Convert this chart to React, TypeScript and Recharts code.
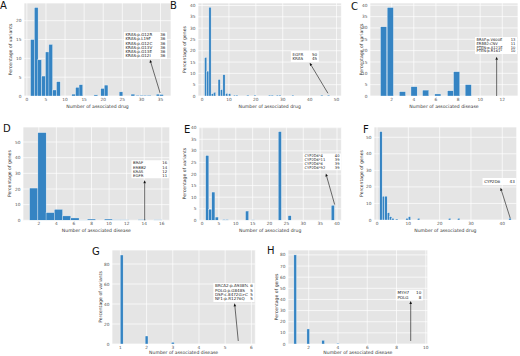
import { BarChart, Bar, XAxis, YAxis, CartesianGrid, ReferenceArea, ReferenceLine } from "recharts";

// A: variants by number of associated drugs
const aBinMid = [1.5, 2.5, 3.4, 4.4, 5.4, 6.3, 7.3, 8.3, 12.3, 13.3, 14.2, 18.1, 19.9, 20.8, 24.7, 27.8, 29.1, 30.1, 31.0, 32.0, 34.4, 35.3];
const aPct = [15.0, 23.5, 9.6, 5.3, 11.7, 13.7, 1.6, 3.8, 0.5, 2.3, 3.0, 0.3, 2.0, 2.9, 1.1, 0.5, 0.2, 0.2, 0.2, 0.2, 0.5, 0.4];
const aXTicks = [0, 5, 10, 15, 20, 25, 30, 35];
const aYTicks = [0, 5, 10, 15, 20];
const aNoteNames = ["KRAS:p.G12R", "KRAS:p.L19F", "KRAS:p.G12C", "KRAS:p.G13V", "KRAS:p.G13E", "KRAS:p.G12I"];
const aNoteCounts = [36, 36, 36, 36, 36, 36];

// B: genes by number of associated drugs
const bBinMid = [1.4, 2.2, 3.0, 3.9, 4.7, 6.4, 7.3, 8.2, 9.2, 10.3, 12.1, 13.0, 17.0, 19.7, 25.1, 26.1, 28.0, 28.9, 33.8, 44.5, 47.0];
const bPct = [17.0, 11.0, 39.2, 1.0, 1.6, 7.3, 2.8, 9.4, 1.1, 1.0, 0.4, 0.4, 0.4, 0.4, 0.4, 0.4, 0.4, 0.4, 0.4, 0.4, 0.4];
const bXTicks = [0, 10, 20, 30, 40, 50];
const bYTicks = [0, 5, 10, 15, 20, 25, 30, 35, 40];
const bNoteNames = ["EGFR", "KRAS"];
const bNoteCounts = [50, 45];

// C: variants by number of associated diseases
const cBinMid = [1.3, 1.9, 3.0, 4.05, 5.1, 6.2, 7.35, 7.9, 8.95];
const cPct = [30.5, 39.0, 1.9, 4.1, 2.6, 0.9, 2.3, 10.7, 5.0];
const cXTicks = [2, 4, 6, 8, 10, 12];
const cYTicks = [0, 5, 10, 15, 20, 25, 30, 35, 40];
const cNoteNames = ["BRAF:p.V600E", "ERBB2:CNV", "PTEN:p.A121E", "PTEN:p.R161*"];
const cNoteCounts = [13, 11, 10, 10];

// D: genes by number of associated diseases
const dBinMid = [1.47, 2.41, 3.34, 4.28, 5.22, 6.16, 7.09, 8.03, 9.97, 10.9, 11.8, 13.8, 15.6];
const dPct = [20.6, 56.0, 4.9, 7.0, 2.8, 1.5, 0.2, 0.8, 0.8, 0.3, 0.3, 0.4, 0.3];
const dXTicks = [2, 4, 6, 8, 10, 12, 14, 16];
const dYTicks = [0, 10, 20, 30, 40, 50];
const dNoteNames = ["BRAF", "ERBB2", "KRAS", "EGFR"];
const dNoteCounts = [16, 14, 12, 11];

// E: variants by number of associated drugs (pharmacogenomic)
const eBinMid = [1.6, 2.5, 3.4, 4.4, 6.5, 7.4, 13.4, 15.1, 23.1, 26.0, 38.8];
const ePct = [28.0, 4.8, 12.2, 1.4, 0.3, 0.3, 4.0, 0.2, 38.3, 2.0, 6.5];
const eXTicks = [0, 5, 10, 15, 20, 25, 30, 35, 40];
const eYTicks = [0, 5, 10, 15, 20, 25, 30, 35, 40];
const eNoteNames = ["CYP2D6*4", "CYP2D6*11", "CYP2D6*6", "CYP2D6*92"];
const eNoteCounts = [40, 39, 39, 39];

// F: genes by number of associated drugs (pharmacogenomic)
const fBinMid = [1.3, 2.1, 2.9, 3.7, 4.4, 5.1, 6.3, 9.6, 10.4, 13.3, 23.2, 26.1, 42.5];
const fPct = [53.4, 14.4, 14.4, 4.4, 2.0, 1.0, 0.6, 1.0, 2.0, 1.0, 1.0, 1.0, 1.0];
const fXTicks = [0, 10, 20, 30, 40];
const fYTicks = [0, 10, 20, 30, 40, 50];
const fNoteNames = ["CYP2D6"];
const fNoteCounts = [43];

// G: variants by number of associated diseases (germline)
const gBinMid = [1.05, 2.0, 3.0];
const gPct = [89.0, 8.0, 1.7];
const gXTicks = [1, 2, 3, 4, 5, 6];
const gYTicks = [0, 20, 40, 60, 80];
const gNoteNames = ["BRCA2:p.A938fs", "POLG:p.G848S", "DSP:c.8472G>C", "NF1:p.R1276Q"];
const gNoteCounts = [6, 5, 5, 5];

// H: genes by number of associated diseases (germline)
const hBinMid = [1.09, 1.98, 3.0, 4.0];
const hPct = [80.0, 13.5, 3.3, 0.7];
const hXTicks = [2, 4, 6, 8, 10];
const hYTicks = [0, 10, 20, 30, 40, 50, 60, 70, 80];
const hNoteNames = ["MYH7", "POLG"];
const hNoteCounts = [10, 8];

const drugTitle = "Number of associated drug";
const diseaseTitle = "Number of associated disease";
const variantsTitle = "Percentage of variants";
const genesTitle = "Percentage of genes";

const FONT = "DejaVu Sans, sans-serif";
const BAR = "#3584c3";
const Y_W = 18;
const TOP = 3;
const RIGHT = 2;
const X_H = 14;

type Plot = { x: number; y: number; w: number; h: number };
type Spec = {
  letter: string;
  letterPos: [number, number];
  plot: Plot;
  mid: number[];
  pct: number[];
  binWidth: number;
  xDomain: [number, number];
  yDomain: [number, number];
  xTicks: number[];
  yTicks: number[];
  xTitle: string;
  yTitle: string;
  yTitleGap: number;
  xTitleDy: number;
  names: string[];
  counts: number[];
  box: { x1: number; x2: number; y1: number; y2: number };
  arrow: [{ x: number; y: number }, { x: number; y: number }];
};

const panels: Spec[] = [
  {
    letter: "A", letterPos: [0, 9], plot: { x: 24, y: 3, w: 147, h: 93 },
    mid: aBinMid, pct: aPct, binWidth: 0.97, xDomain: [-0.75, 37.75], yDomain: [0, 24.7],
    xTicks: aXTicks, yTicks: aYTicks, xTitle: drugTitle, yTitle: variantsTitle, yTitleGap: 14, xTitleDy: 12.3,
    names: aNoteNames, counts: aNoteCounts, box: { x1: 25.4, x2: 36.7, y1: 9.8, y2: 17.0 },
    arrow: [{ x: 34.9, y: 0.8 }, { x: 32.25, y: 9.6 }],
  },
  {
    letter: "B", letterPos: [170, 9], plot: { x: 198.3, y: 3, w: 143.4, h: 93 },
    mid: bBinMid, pct: bPct, binWidth: 0.82, xDomain: [-1.5, 51.8], yDomain: [0, 41.1],
    xTicks: bXTicks, yTicks: bYTicks, xTitle: drugTitle, yTitle: genesTitle, yTitleGap: 13, xTitleDy: 12.3,
    names: bNoteNames, counts: bNoteCounts, box: { x1: 33.0, x2: 43.4, y1: 15.0, y2: 19.9 },
    arrow: [{ x: 46.8, y: 1.2 }, { x: 40.0, y: 14.7 }],
  },
  {
    letter: "C", letterPos: [351, 10], plot: { x: 370, y: 3, w: 148, h: 93 },
    mid: cBinMid, pct: cPct, binWidth: 0.56, xDomain: [0.04, 13.42], yDomain: [0, 41.0],
    xTicks: cXTicks, yTicks: cYTicks, xTitle: diseaseTitle, yTitle: variantsTitle, yTitleGap: 9, xTitleDy: 12.3,
    names: cNoteNames, counts: cNoteCounts, box: { x1: 9.53, x2: 13.33, y1: 18.5, y2: 26.0 },
    arrow: [{ x: 11.49, y: 0 }, { x: 11.49, y: 17.3 }],
  },
  {
    letter: "D", letterPos: [3, 132], plot: { x: 23.3, y: 126.7, w: 146.7, h: 93.3 },
    mid: dBinMid, pct: dPct, binWidth: 0.94, xDomain: [0.2, 16.9], yDomain: [0, 59.6],
    xTicks: dXTicks, yTicks: dYTicks, xTitle: diseaseTitle, yTitle: genesTitle, yTitleGap: 13, xTitleDy: 12,
    names: dNoteNames, counts: dNoteCounts, box: { x1: 12.55, x2: 16.8, y1: 26.8, y2: 38.3 },
    arrow: [{ x: 14.05, y: 0 }, { x: 14.05, y: 25.6 }],
  },
  {
    letter: "E", letterPos: [184, 133], plot: { x: 199.3, y: 126.7, w: 142.4, h: 93.3 },
    mid: eBinMid, pct: ePct, binWidth: 0.93, xDomain: [-0.9, 41.3], yDomain: [0, 40.3],
    xTicks: eXTicks, yTicks: eYTicks, xTitle: drugTitle, yTitle: variantsTitle, yTitleGap: 14, xTitleDy: 12,
    names: eNoteNames, counts: eNoteCounts, box: { x1: 29.9, x2: 41.2, y1: 21.6, y2: 28.9 },
    arrow: [{ x: 39.3, y: 6.8 }, { x: 36.7, y: 20.2 }],
  },
  {
    letter: "F", letterPos: [363, 133], plot: { x: 374.3, y: 127, w: 142.7, h: 93 },
    mid: fBinMid, pct: fPct, binWidth: 0.75, xDomain: [-0.96, 44.6], yDomain: [0, 56.2],
    xTicks: fXTicks, yTicks: fYTicks, xTitle: drugTitle, yTitle: genesTitle, yTitleGap: 12.6, xTitleDy: 12,
    names: fNoteNames, counts: fNoteCounts, box: { x1: 33.7, x2: 44.5, y1: 21.1, y2: 25.4 },
    arrow: [{ x: 42.55, y: 1.0 }, { x: 39.45, y: 19.5 }],
  },
  {
    letter: "G", letterPos: [92, 255], plot: { x: 111.7, y: 250, w: 143.3, h: 94 },
    mid: gBinMid, pct: gPct, binWidth: 0.11, xDomain: [0.68, 6.15], yDomain: [0, 94],
    xTicks: gXTicks, yTicks: gYTicks, xTitle: diseaseTitle, yTitle: variantsTitle, yTitleGap: 11.7, xTitleDy: 10,
    names: gNoteNames, counts: gNoteCounts, box: { x1: 4.55, x2: 6.12, y1: 42, y2: 61 },
    arrow: [{ x: 5.5, y: 3 }, { x: 5.36, y: 40.7 }],
  },
  {
    letter: "H", letterPos: [267, 254], plot: { x: 288.3, y: 250, w: 139.7, h: 94 },
    mid: hBinMid, pct: hPct, binWidth: 0.18, xDomain: [0.585, 10.13], yDomain: [0, 84.4],
    xTicks: hXTicks, yTicks: hYTicks, xTitle: diseaseTitle, yTitle: genesTitle, yTitleGap: 11.6, xTitleDy: 10,
    names: hNoteNames, counts: hNoteCounts, box: { x1: 7.95, x2: 9.8, y1: 39.0, y2: 48.8 },
    arrow: [{ x: 8.97, y: 2.7 }, { x: 8.97, y: 38.6 }],
  },
];

const tickStyle = { fontSize: 4.3, fill: "#555", fontFamily: FONT };

function Arrow(props: any) {
  const { x1, y1, x2, y2 } = props;
  const dx = x2 - x1;
  const dy = y2 - y1;
  const len = Math.sqrt(dx * dx + dy * dy) || 1;
  const ux = dx / len;
  const uy = dy / len;
  const hl = 3;
  const hw = 1.3;
  const bx = x2 - ux * hl;
  const by = y2 - uy * hl;
  const pts = `${x2},${y2} ${bx - uy * hw},${by + ux * hw} ${bx + uy * hw},${by - ux * hw}`;
  return (
    <g>
      <line x1={x1} y1={y1} x2={bx} y2={by} stroke="#111" strokeWidth={0.6} />
      <polygon points={pts} fill="#111" />
    </g>
  );
}

function Panel({ p }: { p: Spec }) {
  const rows = p.mid.map((x, i) => ({ x, pct: p.pct[i] }));
  const pxPerUnit = p.plot.w / (p.xDomain[1] - p.xDomain[0]);
  const barW = Math.max(p.binWidth * pxPerUnit, 1.2);

  const xTitle = ({ viewBox }: any) => (
    <text x={viewBox.x + viewBox.width / 2} y={viewBox.y + p.xTitleDy} textAnchor="middle" fontSize={4.6} fill="#333" fontFamily={FONT}>
      {p.xTitle}
    </text>
  );
  const yTitle = ({ viewBox }: any) => {
    const cx = viewBox.x + viewBox.width - p.yTitleGap;
    const cy = viewBox.y + viewBox.height / 2;
    return (
      <text x={cx} y={cy} transform={`rotate(-90 ${cx} ${cy})`} textAnchor="middle" dominantBaseline="central" fontSize={4.6} fill="#333" fontFamily={FONT}>
        {p.yTitle}
      </text>
    );
  };
  const note = ({ viewBox }: any) => {
    const pad = 0.8;
    const step = (viewBox.height - pad * 2) / p.names.length;
    const fs = Math.min(4.1, step * 0.95);
    return (
      <g fontFamily={FONT} fontSize={fs} fill="#222">
        {p.names.map((n, i) => (
          <g key={n}>
            <text x={viewBox.x + 1.6} y={viewBox.y + pad + step * (i + 0.8)}>{n}</text>
            <text x={viewBox.x + viewBox.width - 1.6} y={viewBox.y + pad + step * (i + 0.8)} textAnchor="end">{p.counts[i]}</text>
          </g>
        ))}
      </g>
    );
  };

  return (
    <div style={{ position: "absolute", left: p.plot.x - Y_W, top: p.plot.y - TOP }}>
      <BarChart width={p.plot.w + Y_W + RIGHT} height={p.plot.h + TOP + X_H} data={rows} margin={{ top: TOP, right: RIGHT, left: 0, bottom: 0 }}>
        <CartesianGrid fill="#e5e5e5" stroke="#ffffff" strokeWidth={0.7} />
        <XAxis dataKey="x" type="number" domain={p.xDomain} ticks={p.xTicks} allowDataOverflow interval={0} height={X_H}
          axisLine={false} tickLine={false} tickSize={1} tickMargin={1} tick={tickStyle} label={xTitle} />
        <YAxis type="number" domain={p.yDomain} ticks={p.yTicks} allowDataOverflow interval={0} width={Y_W}
          axisLine={false} tickLine={false} tickSize={1} tickMargin={1.5} tick={tickStyle} label={yTitle} />
        <Bar dataKey="pct" isAnimationActive={false} barSize={barW}
          shape={(s: any) => (
            <rect x={s.x + s.width / 2 - barW / 2} y={s.y} width={barW} height={Math.max(s.height, 0)} fill={BAR} stroke="#f4f8fb" strokeWidth={0.35} />
          )} />
        <ReferenceLine segment={p.arrow} ifOverflow="visible" shape={Arrow} />
        <ReferenceArea x1={p.box.x1} x2={p.box.x2} y1={p.box.y1} y2={p.box.y2} ifOverflow="visible"
          fill="#ffffff" fillOpacity={1} stroke="none" label={note} />
      </BarChart>
    </div>
  );
}

export default function App() {
  return (
    <div style={{ position: "absolute", left: 0, top: 0, width: 520, height: 356, background: "#fff", overflow: "hidden" }}>
      {panels.map((p) => (
        <Panel key={p.letter} p={p} />
      ))}
      <svg width={520} height={356} style={{ position: "absolute", left: 0, top: 0, pointerEvents: "none" }}>
        {panels.map((p) => (
          <text key={p.letter} x={p.letterPos[0]} y={p.letterPos[1]} fontSize={10} fontFamily={FONT} fill="#111">
            {p.letter}
          </text>
        ))}
      </svg>
    </div>
  );
}
